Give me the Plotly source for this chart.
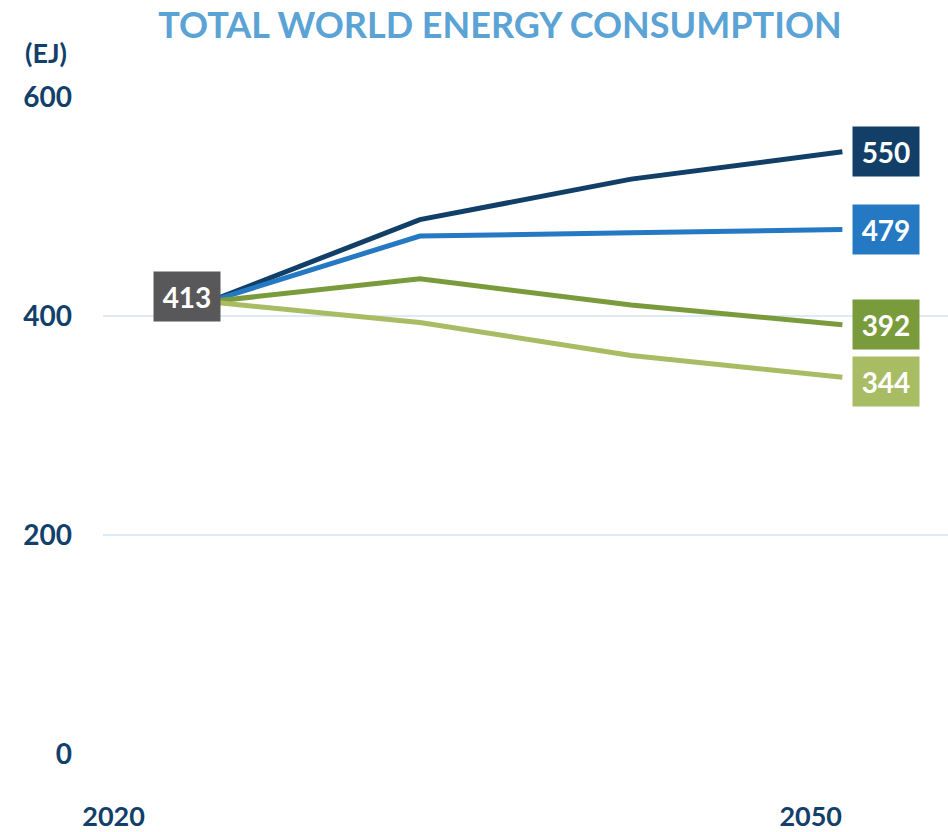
import plotly.graph_objects as go

# ---- data ----
periods = [0, 1, 2, 3]
series_names = ["High", "Mid-high", "Mid-low", "Low"]
series_values = [
    [413, 488, 525, 550],
    [413, 473, 476, 479],
    [413, 434, 410, 392],
    [413, 394, 364, 344],
]
series_colors = ["#113F68", "#2479C2", "#7A9B3C", "#A8BC64"]
start_value = 413
y_ticks = [0, 200, 400, 600]
x_tick_pos = [-0.45, 2.85]
x_tick_text = ["2020", "2050"]

NAVY = "#12406A"
FONT = "Lato"

fig = go.Figure()
for name, vals, col in zip(series_names, series_values, series_colors):
    fig.add_trace(go.Scatter(
        x=periods, y=vals, mode="lines", name=name,
        line=dict(color=col, width=5),
        hoverinfo="skip",
    ))

annotations = []
# end labels
for vals, col in zip(series_values, series_colors):
    annotations.append(dict(
        x=periods[-1], y=vals[-1], xref="x", yref="y",
        text=f"<b>{vals[-1]}</b>", showarrow=False,
        xanchor="center", yanchor="middle", xshift=44,
        yshift=-4 if vals[-1] == min(v[-1] for v in series_values) else 0,
        bgcolor=col, width=64, height=47,
        font=dict(family=FONT, size=28, color="white"),
    ))
# start label
annotations.append(dict(
    x=periods[0], y=start_value, xref="x", yref="y",
    text=f"<b>{start_value}</b>", showarrow=False,
    xanchor="center", yanchor="middle", xshift=-22, yshift=5,
    bgcolor="#58585A", width=64, height=47,
    font=dict(family=FONT, size=28, color="white"),
))
# unit label
annotations.append(dict(
    x=-0.068, y=1.068, xref="paper", yref="paper",
    text="<b>(EJ)</b>", showarrow=False, xanchor="center", yanchor="middle",
    font=dict(family=FONT, size=27, color=NAVY),
))

fig.update_layout(
    width=948, height=832,
    margin=dict(l=103, r=0, t=97, b=72),
    paper_bgcolor="white", plot_bgcolor="white",
    showlegend=False,
    title=dict(
        text="<b>TOTAL WORLD ENERGY CONSUMPTION</b>",
        x=500 / 948, xanchor="center", xref="container",
        y=1 - 25 / 832, yanchor="middle", yref="container",
        font=dict(family=FONT, size=36, color="#5BA3D5"),
    ),
    annotations=annotations,
)
fig.update_yaxes(
    range=[0, 600], tickvals=y_ticks,
    tickfont=dict(family=FONT, size=28, color=NAVY, weight="bold"),
    ticklabelstandoff=30,
    showgrid=True, gridcolor="#DDEBF7", gridwidth=2,
    zeroline=False, showline=False, ticks="",
)
fig.update_xaxes(
    range=[-0.5, 3.5], tickvals=x_tick_pos, ticktext=x_tick_text,
    tickfont=dict(family=FONT, size=27, color=NAVY, weight="bold"),
    ticklabelstandoff=44,
    showgrid=False, zeroline=False, showline=False, ticks="",
)

fig.write_html("out.html")
